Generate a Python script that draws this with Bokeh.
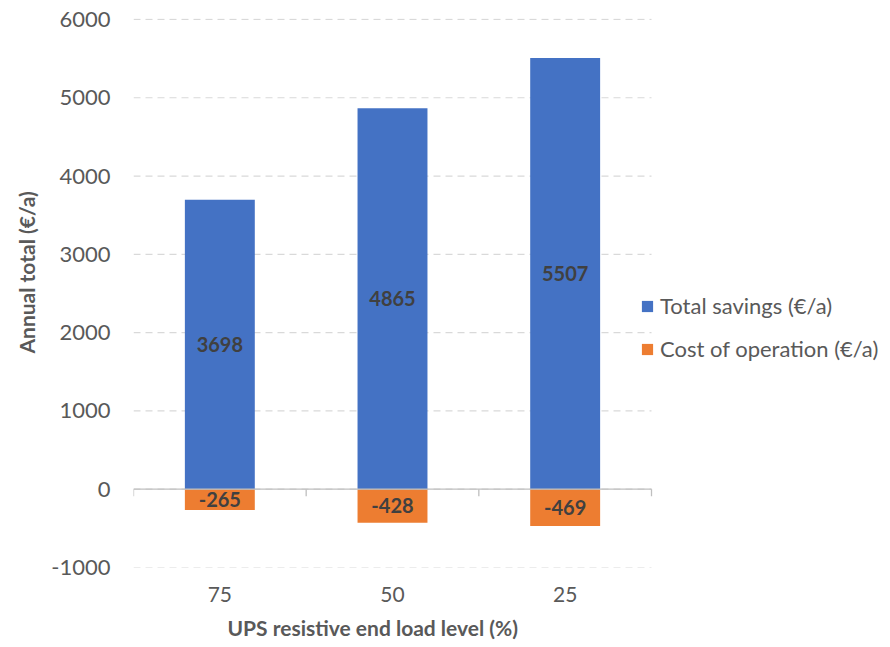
from bokeh.plotting import figure
from bokeh.models import (Range1d, Legend, LegendItem, ColumnDataSource,
                          NumeralTickFormatter, FixedTicker, Title)
from bokeh.core.properties import value
from bokeh.embed import file_html
from bokeh.resources import INLINE

categories = ["75", "50", "25"]
savings = [3698, 4865, 5507]
cost = [-265, -428, -469]
series_names = ["Total savings (€/a)", "Cost of operation (€/a)"]
y_ticks = [-1000, 0, 1000, 2000, 3000, 4000, 5000, 6000]
x_title = "UPS resistive end load level (%)"
y_title = "Annual total (€/a)"

FONT = "Lato"
TXT = "#595959"
BLUE = "#4472C4"
ORANGE = "#ED7D31"

W, H = 890, 647
LEFT, PLOT_RIGHT = 133, 651          # Excel plot area spans 133..651 px
n = len(categories)
xpos = [i + 0.5 for i in range(n)]
bounds = [float(i) for i in range(n + 1)]
x_end = n * (W - LEFT) / (PLOT_RIGHT - LEFT)   # let the frame run to the right edge for the legend

p = figure(width=W, height=H, x_range=Range1d(0, x_end),
           y_range=Range1d(-1000, 6012), output_backend="svg",
           toolbar_location=None, min_border_left=LEFT, min_border_right=0,
           min_border_top=18, min_border_bottom=80)
p.outline_line_color = None
p.background_fill_color = "white"
p.border_fill_color = "white"
p.xgrid.grid_line_color = None
p.ygrid.grid_line_color = None

# dashed gridlines across the plot area only
p.segment(x0=[bounds[0]] * len(y_ticks), x1=[bounds[-1]] * len(y_ticks), y0=y_ticks, y1=y_ticks,
          line_color="#d9d9d9", line_dash="7 5", line_width=1.2)

src = ColumnDataSource(dict(x=xpos, s=savings, c=cost,
                            smid=[v / 2 for v in savings], cmid=[v / 2 for v in cost],
                            slab=[str(v) for v in savings], clab=[str(v) for v in cost]))

r1 = p.vbar(x="x", top="s", bottom=0, width=0.405, source=src,
            fill_color=BLUE, line_color=None)
r2 = p.vbar(x="x", top=0, bottom="c", width=0.405, source=src,
            fill_color=ORANGE, line_color=None)

# zero axis line with category-boundary ticks
p.segment(x0=[bounds[0]], x1=[bounds[-1]], y0=[0], y1=[0], line_color="#bfbfbf", line_width=1.3)
tick_len = 90
p.segment(x0=bounds, y0=[0] * len(bounds), x1=bounds, y1=[-tick_len] * len(bounds),
          line_color="#bfbfbf", line_width=1.3)

for col, lab in (("smid", "slab"), ("cmid", "clab")):
    p.text(x="x", y=col, text=lab, source=src, text_align="center",
           text_baseline="middle", text_font=value(FONT), text_font_style="bold",
           text_font_size="20px", text_color="#404040")

# y axis
p.yaxis.ticker = y_ticks
p.yaxis.formatter = NumeralTickFormatter(format="0")
p.yaxis.axis_line_color = None
p.yaxis.major_tick_line_color = None
p.yaxis.major_tick_out = 0
p.yaxis.major_tick_in = 0
p.yaxis.minor_tick_line_color = None
p.yaxis.major_label_standoff = 23
p.yaxis.major_label_text_font = FONT
p.yaxis.major_label_text_font_size = "22px"
p.yaxis.major_label_text_color = TXT

# x axis
p.xaxis.ticker = FixedTicker(ticks=xpos)
p.xaxis.major_label_overrides = {x: c for x, c in zip(xpos, categories)}
p.xaxis.axis_line_color = None
p.xaxis.major_tick_line_color = None
p.xaxis.major_tick_out = 0
p.xaxis.major_tick_in = 0
p.xaxis.minor_tick_line_color = None
p.xaxis.major_label_standoff = 19
p.xaxis.major_label_text_font = FONT
p.xaxis.major_label_text_font_size = "21px"
p.xaxis.major_label_text_color = TXT

p.add_layout(Title(text=x_title, align="left", offset=94, standoff=16,
                   text_font=FONT, text_font_size="21px", text_font_style="bold",
                   text_color=TXT), "below")
p.add_layout(Title(text=y_title, align="left", offset=214, standoff=16, vertical_align="top",
                   text_font=FONT, text_font_size="21px", text_font_style="bold",
                   text_color=TXT), "left")

legend = Legend(items=[LegendItem(label=series_names[0], renderers=[r1]),
                       LegendItem(label=series_names[1], renderers=[r2])],
                location=(507, 205), border_line_color=None, background_fill_alpha=0,
                padding=0, margin=0, glyph_width=14, glyph_height=14, label_standoff=6,
                spacing=16, label_text_font=FONT, label_text_font_size="22px",
                label_text_color=TXT)
p.add_layout(legend, "center")

open("out.html", "w").write(file_html(p, INLINE))
